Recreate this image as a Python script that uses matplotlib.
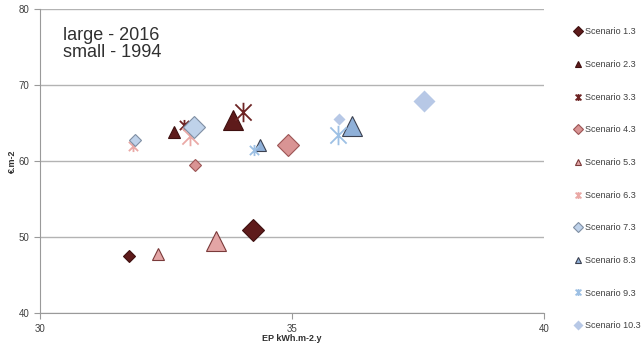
import matplotlib.pyplot as plt
from matplotlib.path import Path
from matplotlib.lines import Line2D

plt.rcParams['font.family'] = ['Liberation Sans', 'DejaVu Sans']

scenarios = ['Scenario 1.3', 'Scenario 2.3', 'Scenario 3.3', 'Scenario 4.3', 'Scenario 5.3',
             'Scenario 6.3', 'Scenario 7.3', 'Scenario 8.3', 'Scenario 9.3', 'Scenario 10.3']

# small markers: 1994, large markers: 2016
ep_1994 = [31.77, 32.65, 32.86, 33.08, 32.35, 31.85, 31.88, 34.37, 34.25, 35.94]
cost_1994 = [47.5, 63.8, 64.7, 59.5, 47.8, 62.0, 62.8, 62.1, 61.4, 65.6]
ep_2016 = [34.23, 33.82, 34.03, 34.92, 33.50, 32.98, 33.06, 36.18, 35.92, 37.62]
cost_2016 = [51.0, 65.4, 66.4, 62.1, 49.5, 63.3, 64.5, 64.6, 63.4, 67.9]

# excel-like star: an X with a vertical bar
star = Path([(-1, -1), (1, 1), (-1, 1), (1, -1), (0, -1.2), (0, 1.2)],
            [Path.MOVETO, Path.LINETO, Path.MOVETO, Path.LINETO, Path.MOVETO, Path.LINETO])

styles = [
    dict(marker='D', fc='#5e1b1b', ec='#3f1010'),
    dict(marker='^', fc='#5e1b1b', ec='#3f1010'),
    dict(marker=star, fc='none', ec='#6e2424'),
    dict(marker='D', fc='#d99494', ec='#9c5555'),
    dict(marker='^', fc='#e3a5a5', ec='#7a3a3a'),
    dict(marker=star, fc='none', ec='#eaa9a6'),
    dict(marker='D', fc='#bfd2ea', ec='#7f8fa3'),
    dict(marker='^', fc='#8fb0d8', ec='#3c4150'),
    dict(marker=star, fc='none', ec='#9dc0e4'),
    dict(marker='D', fc='#b7c8e6', ec='none'),
]

fig = plt.figure(figsize=(6.44, 3.51), dpi=100)
ax = fig.add_axes([0.062, 0.108, 0.783, 0.866])

size_small = {'D': 6.5, '^': 9}
size_large = {'D': 11.5, '^': 14}

handles = []
for i, st in enumerate(styles):
    m = st['marker']
    is_star = m is star
    ms_s = 8 if is_star else size_small[m]
    ms_l = 14 if is_star else size_large[m]
    kw = dict(marker=m, linestyle='none', markerfacecolor=st['fc'],
              markeredgecolor=st['ec'], markeredgewidth=1.3 if is_star else 0.8)
    ax.plot(ep_1994[i], cost_1994[i], markersize=ms_s, zorder=3, **kw)
    ax.plot(ep_2016[i], cost_2016[i], markersize=ms_l, zorder=3, **kw)
    handles.append(Line2D([], [], markersize=5, **kw))

ax.set_xlim(30, 40)
ax.set_ylim(40, 80)
ax.set_xticks([30, 35, 40])
ax.set_yticks([40, 50, 60, 70, 80])
ax.grid(axis='y', color='#b3b3b3', linewidth=1)
ax.set_axisbelow(True)
for s in ['top', 'right']:
    ax.spines[s].set_visible(False)
for s in ['left', 'bottom']:
    ax.spines[s].set_color('#9a9a9a')
ax.tick_params(colors='#9a9a9a', labelcolor='#404040', labelsize=7, length=4)
ax.set_xlabel('EP kWh.m-2.y', fontsize=6.5, fontweight='bold', color='#303030', labelpad=0)
ax.set_ylabel('€.m-2', fontsize=6.5, fontweight='bold', color='#303030', labelpad=1)

ax.text(0.045, 0.94, 'large - 2016\nsmall - 1994', transform=ax.transAxes,
        fontsize=13, va='top', ha='left', color='#303030', linespacing=1.0)

fig.legend(handles, scenarios, loc='upper left', bbox_to_anchor=(0.88, 0.945),
           frameon=False, fontsize=6.5, labelspacing=2.62, handlelength=0.8,
           handletextpad=0.3, labelcolor='#404040')

fig.savefig('out.png', dpi=100)
